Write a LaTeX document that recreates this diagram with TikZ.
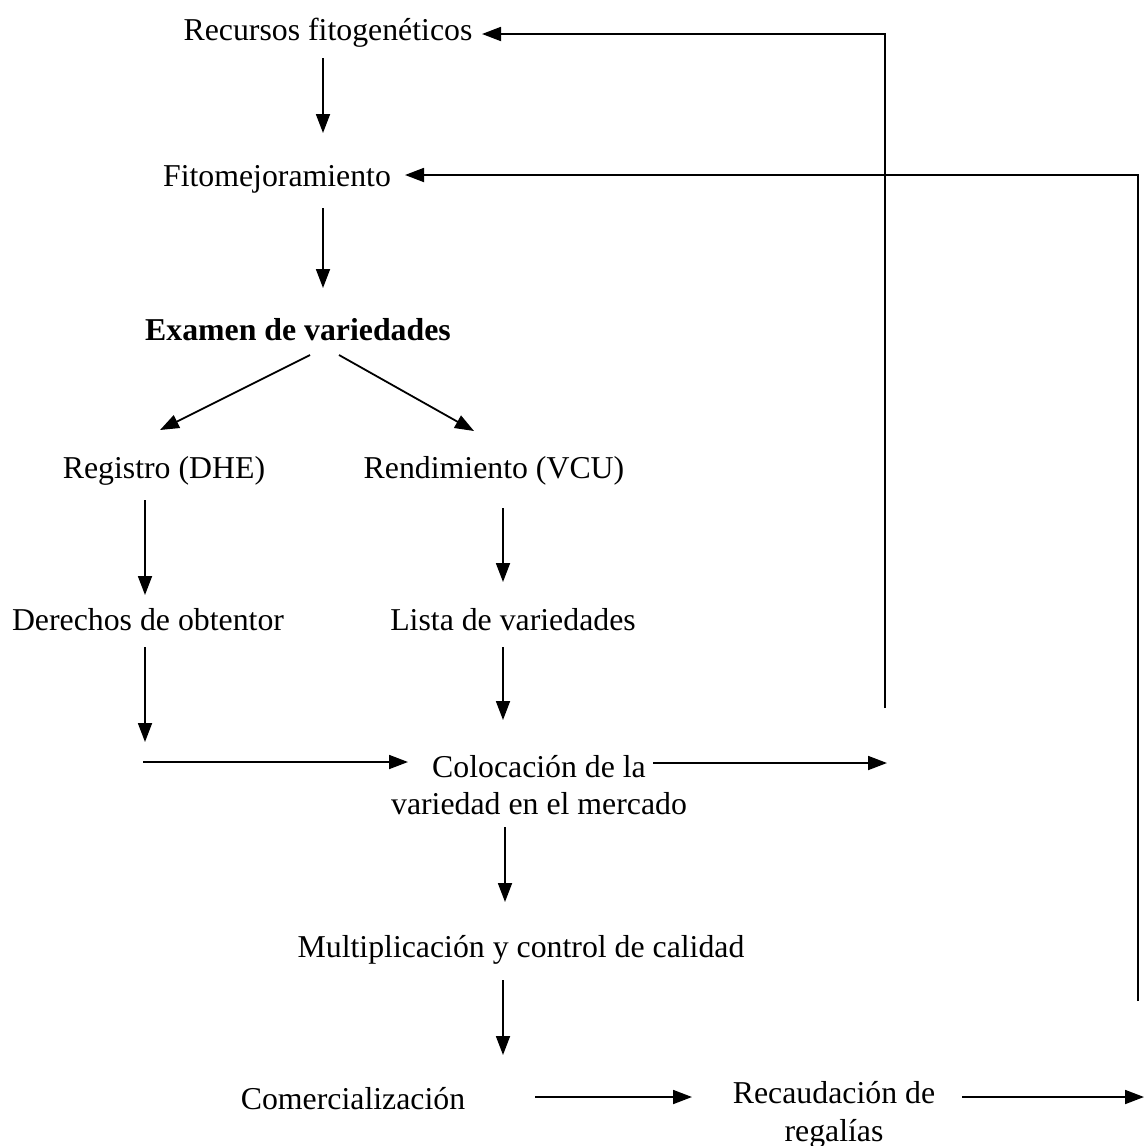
\documentclass[tikz,border=0pt]{standalone}
\usepackage{fontspec}
\setmainfont{Liberation Serif}
\usetikzlibrary{arrows.meta}
\begin{document}
\begin{tikzpicture}[x=1pt,y=-1pt,
  lbl/.style={inner sep=0pt,font=\fontsize{31.8}{37.5}\selectfont,align=center},
  arr/.style={line width=1.8pt,-{Triangle[length=19pt,width=14pt]}}]
\useasboundingbox (0,0) rectangle (1144,1146);
% nodes
\node[lbl] (rec) at (328,33) {Recursos fitogenéticos};
\node[lbl] (fito) at (277,179) {Fitomejoramiento};
\node[lbl,font=\fontsize{31.8}{37.5}\selectfont\bfseries] (exa) at (298,330) {Examen de variedades};
\node[lbl] (reg) at (164,471) {Registro (DHE)};
\node[lbl] (ren) at (494,471) {Rendimiento (VCU)};
\node[lbl] (der) at (148,620) {Derechos de obtentor};
\node[lbl] (lis) at (513,620) {Lista de variedades};
\node[lbl] (col) at (539,785) {Colocación de la\\variedad en el mercado};
\node[lbl] (mul) at (521,950) {Multiplicación y control de calidad};
\node[lbl] (com) at (353,1099) {Comercialización};
\node[lbl] (rea) at (834,1115) {Recaudación de\\regalías};
% coordinates
\coordinate (a1) at (323,58);   \coordinate (b1) at (323,133);
\coordinate (a2) at (323,208);  \coordinate (b2) at (323,288);
\coordinate (a3) at (310,355);  \coordinate (b3) at (160,430);
\coordinate (a4) at (339,355);  \coordinate (b4) at (474,431);
\coordinate (a5) at (145,500);  \coordinate (b5) at (145,595);
\coordinate (a6) at (503,508);  \coordinate (b6) at (503,582);
\coordinate (a7) at (145,647);  \coordinate (b7) at (145,742);
\coordinate (a8) at (503,647);  \coordinate (b8) at (503,720);
\coordinate (a9) at (143,762);  \coordinate (b9) at (408,762);
\coordinate (a10) at (653,763); \coordinate (b10) at (887,763);
\coordinate (c11) at (885,708); \coordinate (d11) at (885,34); \coordinate (e11) at (482,34);
\coordinate (a12) at (505,827); \coordinate (b12) at (505,902);
\coordinate (a13) at (503,980); \coordinate (b13) at (503,1055);
\coordinate (a14) at (535,1097); \coordinate (b14) at (692,1097);
\coordinate (a15) at (962,1097); \coordinate (b15) at (1144,1097);
\coordinate (c16) at (1138,1001); \coordinate (d16) at (1138,175); \coordinate (e16) at (405,175);
% connectors
\draw[arr] (a1) -- (b1);
\draw[arr] (a2) -- (b2);
\draw[arr] (a3) -- (b3);
\draw[arr] (a4) -- (b4);
\draw[arr] (a5) -- (b5);
\draw[arr] (a6) -- (b6);
\draw[arr] (a7) -- (b7);
\draw[arr] (a8) -- (b8);
\draw[arr] (a9) -- (b9);
\draw[arr] (a10) -- (b10);
\draw[arr] (c11) -- (d11) -- (e11);
\draw[arr] (a12) -- (b12);
\draw[arr] (a13) -- (b13);
\draw[arr] (a14) -- (b14);
\draw[arr] (a15) -- (b15);
\draw[arr] (c16) -- (d16) -- (e16);
\end{tikzpicture}
\end{document}
